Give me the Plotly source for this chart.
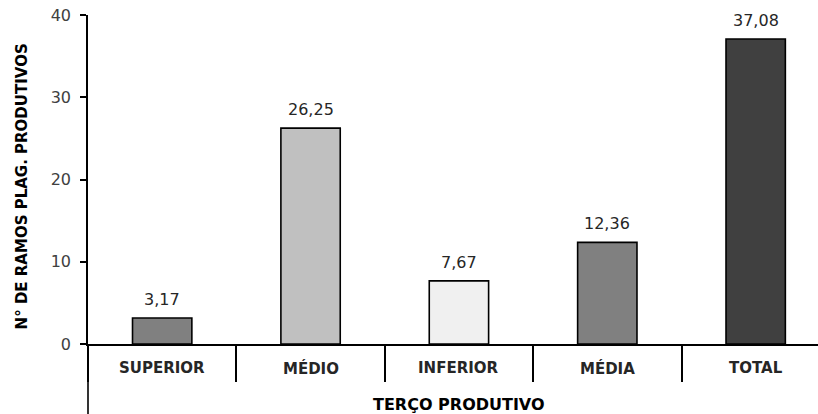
import plotly.graph_objects as go

# Ramos plagiotrópicos produtivos por terço da planta
categorias = ["SUPERIOR", "MÉDIO", "INFERIOR", "MÉDIA", "TOTAL"]
valores = [3.17, 26.25, 7.67, 12.36, 37.08]
rotulos = ["3,17", "26,25", "7,67", "12,36", "37,08"]
cores = ["#808080", "#c0c0c0", "#f0f0f0", "#808080", "#404040"]
ticks_y = [0, 10, 20, 30, 40]

fonte = "DejaVu Sans"

fig = go.Figure(
    go.Bar(
        x=categorias,
        y=valores,
        width=0.4,
        marker=dict(color=cores, line=dict(color="#000000", width=1.6)),
        cliponaxis=False,
    )
)

fig.update_layout(
    width=818,
    height=414,
    margin=dict(l=88, r=0, t=15, b=70),
    paper_bgcolor="white",
    plot_bgcolor="white",
    showlegend=False,
    font=dict(family=fonte, color="#000000"),
)

fig.update_xaxes(
    type="category",
    range=[-0.5, 4.42],
    showline=True,
    linecolor="#000000",
    linewidth=1.6,
    ticks="outside",
    tickson="boundaries",
    ticklen=36,
    tickwidth=1.6,
    tickcolor="#000000",
    showticklabels=False,
    showgrid=False,
)

fig.update_yaxes(
    range=[0, 40],
    tickvals=ticks_y,
    ticktext=[str(v) for v in ticks_y],
    showline=True,
    linecolor="#000000",
    linewidth=1.6,
    ticks="outside",
    ticklen=6,
    tickwidth=1.6,
    tickcolor="#000000",
    ticklabelstandoff=6,
    tickfont=dict(family=fonte, size=16, color="#404040"),
    showgrid=False,
    zeroline=False,
)

# rótulos de valor acima das barras
for cat, val, rot in zip(categorias, valores, rotulos):
    fig.add_annotation(
        text=rot, x=cat, y=val, xref="x", yref="y",
        yanchor="bottom", yshift=7, showarrow=False,
        font=dict(family=fonte, size=16, color="#262626"),
    )

# nomes das categorias entre os traços divisórios
for cat in categorias:
    fig.add_annotation(
        text=f"<b>{cat}</b>", x=cat, y=-0.073, xref="x", yref="paper",
        yanchor="middle", showarrow=False,
        font=dict(family=fonte, size=15, color="#262626"),
    )

# prolongamento do eixo vertical abaixo da linha de base
fig.add_shape(
    type="line", xref="paper", yref="paper",
    x0=0, x1=0, y0=0, y1=-0.25,
    line=dict(color="#000000", width=1.6),
)

fig.add_annotation(
    text="<b>TERÇO PRODUTIVO</b>", xref="x", yref="paper",
    x=2, y=-0.185, yanchor="middle", showarrow=False,
    font=dict(family=fonte, size=16, color="#000000"),
)
fig.add_annotation(
    text="<b>N° DE RAMOS PLAG. PRODUTIVOS</b>", xref="paper", yref="paper",
    x=-0.09, y=0.48, xanchor="center", yanchor="middle", textangle=-90,
    showarrow=False,
    font=dict(family=fonte, size=15, color="#000000"),
)

fig.write_html("out.html")
